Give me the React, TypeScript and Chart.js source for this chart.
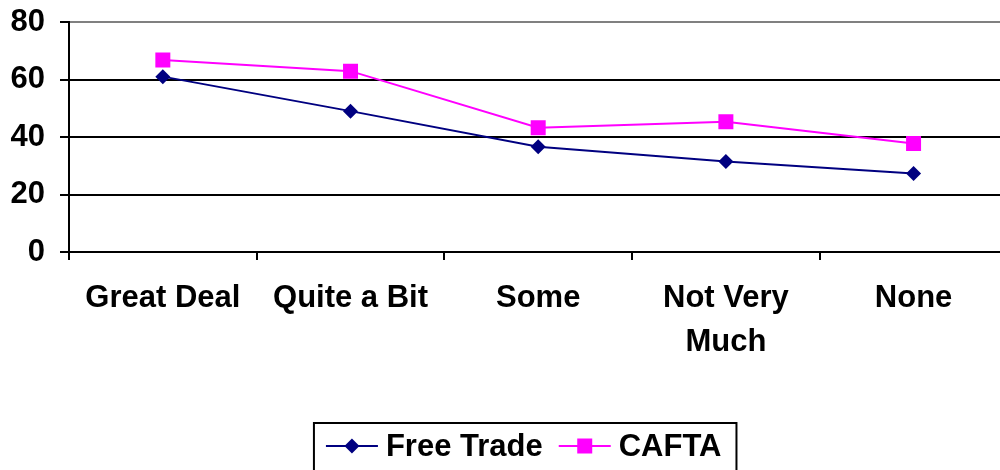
import React, { useEffect, useRef } from "react";
import { Chart, registerables } from "chart.js";

Chart.register(...registerables);

const categories: (string | string[])[] = ["Great Deal", "Quite a Bit", "Some", ["Not Very", "Much"], "None"];
const freeTrade = [61, 49, 36.6, 31.5, 27.3];
const cafta = [66.8, 62.9, 43.2, 45.3, 37.7];
const yTicks = [0, 20, 40, 60, 80];
const seriesNames = ["Free Trade", "CAFTA"];

const FONT = '"Liberation Sans", Arial, sans-serif';
const NAVY = "#000080";
const MAGENTA = "#FF00FF";
const CANVAS_W = 1018;

function drawMarker(ctx: CanvasRenderingContext2D, style: string, x: number, y: number, color: string) {
  ctx.fillStyle = color;
  ctx.beginPath();
  if (style === "rectRot") {
    const r = 7.5;
    ctx.moveTo(x, y - r);
    ctx.lineTo(x + r, y);
    ctx.lineTo(x, y + r);
    ctx.lineTo(x - r, y);
    ctx.closePath();
  } else {
    const h = 7.5;
    ctx.rect(x - h, y - h, 2 * h, 2 * h);
  }
  ctx.fill();
}

const legendPlugin = {
  id: "boxLegend",
  afterDraw(chart: any) {
    const ctx: CanvasRenderingContext2D = chart.ctx;
    const area = chart.chartArea;
    ctx.save();
    ctx.font = `bold 31px ${FONT}`;
    const sample = 52;
    const gapText = 8;
    const gapItem = 16;
    const padL = 12;
    const padR = 15;
    const items = chart.data.datasets.map((d: any) => ({
      label: d.label,
      color: d.borderColor,
      style: d.pointStyle,
      w: ctx.measureText(d.label).width,
    }));
    let total = padL + padR;
    items.forEach((it: any, i: number) => {
      total += sample + gapText + it.w + (i > 0 ? gapItem : 0);
    });
    const cx = (area.left + area.right) / 2 - 13;
    const left = cx - total / 2;
    const top = 423;
    const midY = 446;
    ctx.strokeStyle = "#000";
    ctx.lineWidth = 2;
    ctx.strokeRect(left, top, total, 60);
    let x = left + padL;
    items.forEach((it: any, i: number) => {
      if (i > 0) x += gapItem;
      ctx.strokeStyle = it.color;
      ctx.lineWidth = 2;
      ctx.beginPath();
      ctx.moveTo(x, midY);
      ctx.lineTo(x + sample, midY);
      ctx.stroke();
      drawMarker(ctx, it.style, x + sample / 2, midY, it.color);
      x += sample + gapText;
      ctx.fillStyle = "#000";
      ctx.textBaseline = "middle";
      ctx.textAlign = "left";
      ctx.fillText(it.label, x, midY + 1);
      x += it.w;
    });
    ctx.restore();
  },
};

export default function App() {
  const ref = useRef<HTMLCanvasElement>(null);
  useEffect(() => {
    if (!ref.current) return;
    const chart = new Chart(ref.current, {
      type: "line",
      data: {
        labels: categories as any,
        datasets: [
          {
            label: seriesNames[0],
            data: freeTrade,
            borderColor: NAVY,
            backgroundColor: NAVY,
            borderWidth: 2,
            pointStyle: "rectRot",
            pointRadius: 7.5,
            pointBorderWidth: 0,
            tension: 0,
          },
          {
            label: seriesNames[1],
            data: cafta,
            borderColor: MAGENTA,
            backgroundColor: MAGENTA,
            borderWidth: 2,
            pointStyle: "rect",
            pointRadius: 10.6,
            pointBorderWidth: 0,
            tension: 0,
          },
        ],
      },
      options: {
        responsive: false,
        animation: false,
        layout: { padding: { top: 22, right: 3, left: 0, bottom: 0 } },
        plugins: { legend: { display: false }, tooltip: { enabled: false } },
        scales: {
          x: {
            type: "category",
            offset: true,
            grid: {
              offset: true,
              drawOnChartArea: false,
              drawTicks: true,
              tickLength: 8,
              color: "#000",
              lineWidth: 2,
            },
            border: { display: true, color: "#000", width: 2 },
            ticks: {
              font: { family: FONT, size: 31, weight: "bold", lineHeight: 1.4 },
              color: "#000",
              padding: 17,
              maxRotation: 0,
              autoSkip: false,
            },
            afterFit(scale: any) {
              scale.height = 218;
              scale.paddingLeft = 0;
              scale.paddingRight = 0;
            },
          },
          y: {
            min: 0,
            max: 80,
            afterBuildTicks(scale: any) {
              scale.ticks = yTicks.map((v) => ({ value: v }));
            },
            grid: {
              color: (c: any) => (c.tick && c.tick.value === 80 ? "#808080" : "#000"),
              tickColor: "#000",
              lineWidth: 2,
              drawTicks: true,
              tickLength: 9,
            },
            border: { display: true, color: "#000", width: 2 },
            ticks: {
              font: { family: FONT, size: 31, weight: "bold" },
              color: "#000",
              padding: 15,
            },
            afterFit(scale: any) {
              scale.width = 69;
              scale.paddingTop = 0;
              scale.paddingBottom = 0;
            },
          },
        },
      },
      plugins: [legendPlugin],
    });
    return () => chart.destroy();
  }, []);
  return (
    <div style={{ position: "absolute", left: 0, top: 0, width: 1000, height: 470, overflow: "hidden", background: "#fff" }}>
      <div style={{ width: CANVAS_W, height: 470 }}>
        <canvas ref={ref} width={CANVAS_W} height={470} style={{ display: "block", width: CANVAS_W, height: 470 }} />
      </div>
    </div>
  );
}
